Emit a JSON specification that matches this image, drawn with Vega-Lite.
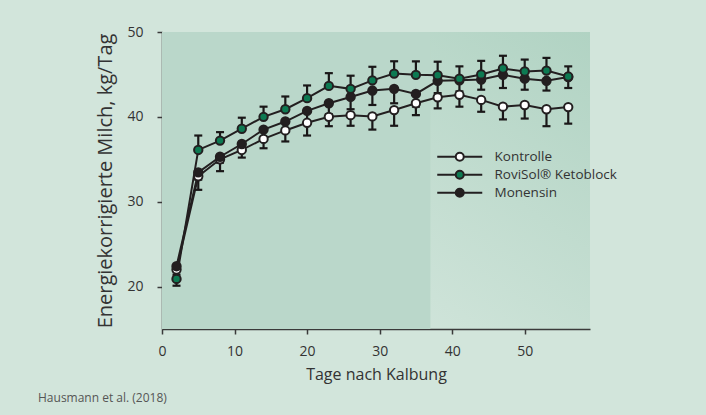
{
  "$schema": "https://vega.github.io/schema/vega-lite/v6.json",
  "autosize": {"type": "none"},
  "padding": {"left": 162, "top": 32, "right": 116, "bottom": 86},
  "width": 428,
  "height": 297,
  "background": "#d2e5db",
  "title": {
    "text": "Hausmann et al. (2018)",
    "orient": "bottom",
    "anchor": "start",
    "frame": "group",
    "dx": -124,
    "offset": 11,
    "fontSize": 12,
    "fontWeight": "normal",
    "font": "Open Sans",
    "color": "#555555"
  },
  "config": {
    "font": "Open Sans",
    "view": {
      "stroke": null,
      "fill": {
        "gradient": "linear",
        "x1": 0, "y1": 1, "x2": 1, "y2": 0,
        "stops": [
          {"offset": 0, "color": "#dcebe3"},
          {"offset": 1, "color": "#b1d3c3"}
        ]
      }
    },
    "axis": {
      "grid": false,
      "domainColor": "#3a3a3a",
      "domainWidth": 1.5,
      "tickColor": "#3a3a3a",
      "tickWidth": 1.5,
      "tickSize": 5,
      "labelColor": "#333333",
      "labelFontSize": 14,
      "labelFont": "Open Sans",
      "titleColor": "#333333",
      "titleFontSize": 16,
      "titleFont": "Open Sans",
      "titleFontWeight": "normal"
    }
  },
  "datasets": {
    "milk": [
      {"day": 2, "group": "Kontrolle", "value": 22.0, "lo": 21.4, "hi": 22.0},
      {"day": 5, "group": "Kontrolle", "value": 33.0, "lo": 31.4, "hi": 33.0},
      {"day": 8, "group": "Kontrolle", "value": 35.0, "lo": 33.6, "hi": 35.0},
      {"day": 11, "group": "Kontrolle", "value": 36.1, "lo": 35.2, "hi": 36.1},
      {"day": 14, "group": "Kontrolle", "value": 37.4, "lo": 36.3, "hi": 37.4},
      {"day": 17, "group": "Kontrolle", "value": 38.4, "lo": 37.1, "hi": 38.4},
      {"day": 20, "group": "Kontrolle", "value": 39.3, "lo": 37.8, "hi": 39.3},
      {"day": 23, "group": "Kontrolle", "value": 40.0, "lo": 38.9, "hi": 40.0},
      {"day": 26, "group": "Kontrolle", "value": 40.2, "lo": 38.95, "hi": 40.2},
      {"day": 29, "group": "Kontrolle", "value": 40.05, "lo": 38.5, "hi": 40.05},
      {"day": 32, "group": "Kontrolle", "value": 40.8, "lo": 38.95, "hi": 40.8},
      {"day": 35, "group": "Kontrolle", "value": 41.6, "lo": 40.2, "hi": 41.6},
      {"day": 38, "group": "Kontrolle", "value": 42.3, "lo": 41.0, "hi": 42.3},
      {"day": 41, "group": "Kontrolle", "value": 42.6, "lo": 41.2, "hi": 42.6},
      {"day": 44, "group": "Kontrolle", "value": 42.0, "lo": 40.6, "hi": 42.0},
      {"day": 47, "group": "Kontrolle", "value": 41.2, "lo": 39.7, "hi": 41.2},
      {"day": 50, "group": "Kontrolle", "value": 41.4, "lo": 39.8, "hi": 41.4},
      {"day": 53, "group": "Kontrolle", "value": 40.9, "lo": 38.9, "hi": 40.9},
      {"day": 56, "group": "Kontrolle", "value": 41.15, "lo": 39.2, "hi": 41.15},
      {"day": 2, "group": "Monensin", "value": 22.4, "lo": 21.8, "hi": 22.4},
      {"day": 5, "group": "Monensin", "value": 33.45, "lo": 32.6, "hi": 33.45},
      {"day": 8, "group": "Monensin", "value": 35.3, "lo": 34.6, "hi": 35.3},
      {"day": 11, "group": "Monensin", "value": 36.8, "lo": 35.9, "hi": 36.8},
      {"day": 14, "group": "Monensin", "value": 38.5, "lo": 37.4, "hi": 38.5},
      {"day": 17, "group": "Monensin", "value": 39.45, "lo": 38.3, "hi": 39.45},
      {"day": 20, "group": "Monensin", "value": 40.7, "lo": 39.5, "hi": 40.7},
      {"day": 23, "group": "Monensin", "value": 41.6, "lo": 40.3, "hi": 41.6},
      {"day": 26, "group": "Monensin", "value": 42.35, "lo": 40.9, "hi": 42.35},
      {"day": 29, "group": "Monensin", "value": 43.1, "lo": 41.4, "hi": 43.1},
      {"day": 32, "group": "Monensin", "value": 43.3, "lo": 41.6, "hi": 43.3},
      {"day": 35, "group": "Monensin", "value": 42.7, "lo": 41.2, "hi": 42.7},
      {"day": 38, "group": "Monensin", "value": 44.25, "lo": 42.8, "hi": 44.25},
      {"day": 41, "group": "Monensin", "value": 44.3, "lo": 43.0, "hi": 44.3},
      {"day": 44, "group": "Monensin", "value": 44.4, "lo": 43.2, "hi": 44.4},
      {"day": 47, "group": "Monensin", "value": 44.95, "lo": 43.4, "hi": 44.95},
      {"day": 50, "group": "Monensin", "value": 44.5, "lo": 43.2, "hi": 44.5},
      {"day": 53, "group": "Monensin", "value": 44.25, "lo": 43.1, "hi": 44.25},
      {"day": 56, "group": "Monensin", "value": 44.7, "lo": 43.4, "hi": 44.7},
      {"day": 2, "group": "RoviSol® Ketoblock", "value": 20.9, "lo": 20.1, "hi": 20.9},
      {"day": 5, "group": "RoviSol® Ketoblock", "value": 36.1, "lo": 36.1, "hi": 37.8},
      {"day": 8, "group": "RoviSol® Ketoblock", "value": 37.2, "lo": 37.2, "hi": 38.2},
      {"day": 11, "group": "RoviSol® Ketoblock", "value": 38.6, "lo": 38.6, "hi": 39.9},
      {"day": 14, "group": "RoviSol® Ketoblock", "value": 40.0, "lo": 40.0, "hi": 41.2},
      {"day": 17, "group": "RoviSol® Ketoblock", "value": 40.9, "lo": 40.9, "hi": 42.4},
      {"day": 20, "group": "RoviSol® Ketoblock", "value": 42.2, "lo": 42.2, "hi": 43.7},
      {"day": 23, "group": "RoviSol® Ketoblock", "value": 43.65, "lo": 43.65, "hi": 45.15},
      {"day": 26, "group": "RoviSol® Ketoblock", "value": 43.3, "lo": 43.3, "hi": 44.85},
      {"day": 29, "group": "RoviSol® Ketoblock", "value": 44.3, "lo": 44.3, "hi": 45.9},
      {"day": 32, "group": "RoviSol® Ketoblock", "value": 45.1, "lo": 45.1, "hi": 46.55},
      {"day": 35, "group": "RoviSol® Ketoblock", "value": 44.95, "lo": 44.95, "hi": 46.55},
      {"day": 38, "group": "RoviSol® Ketoblock", "value": 44.9, "lo": 44.9, "hi": 46.5},
      {"day": 41, "group": "RoviSol® Ketoblock", "value": 44.5, "lo": 44.5, "hi": 45.95},
      {"day": 44, "group": "RoviSol® Ketoblock", "value": 45.0, "lo": 45.0, "hi": 46.6},
      {"day": 47, "group": "RoviSol® Ketoblock", "value": 45.7, "lo": 45.7, "hi": 47.2},
      {"day": 50, "group": "RoviSol® Ketoblock", "value": 45.35, "lo": 45.35, "hi": 46.75},
      {"day": 53, "group": "RoviSol® Ketoblock", "value": 45.45, "lo": 45.45, "hi": 46.95},
      {"day": 56, "group": "RoviSol® Ketoblock", "value": 44.75, "lo": 44.75, "hi": 45.95}
    ]
  },
  "layer": [
    {
      "data": {"values": [{"from": 0, "to": 37, "low": 15, "high": 50}]},
      "mark": {"type": "rect", "color": "#bad7ca", "opacity": 1},
      "encoding": {
        "x": {"field": "from", "type": "quantitative", "title": "Tage nach Kalbung", "scale": {"domain": [0, 59], "nice": false},
              "axis": {"values": [0, 10, 20, 30, 40, 50], "labelPadding": 10, "titlePadding": 8, "labelFlush": false}},
        "x2": {"field": "to"},
        "y": {"field": "low", "type": "quantitative", "title": "Energiekorrigierte Milch, kg/Tag", "scale": {"domain": [15, 50], "nice": false, "zero": false},
              "axis": {"values": [20, 30, 40, 50], "labelPadding": 14, "titlePadding": 11, "titleFontSize": 20, "labelFlush": false}},
        "y2": {"field": "high"}
      }
    },
    {
      "data": {"name": "milk"},
      "mark": {"type": "line", "color": "#231f20", "strokeWidth": 2},
      "encoding": {
        "x": {"field": "day", "type": "quantitative", "title": "Tage nach Kalbung"},
        "y": {"field": "value", "type": "quantitative", "title": "Energiekorrigierte Milch, kg/Tag"},
        "detail": {"field": "group"}
      }
    },
    {
      "data": {"name": "milk"},
      "mark": {"type": "errorbar", "color": "#1a1718", "opacity": 1, "thickness": 2.2,
               "rule": {"color": "#1a1718", "strokeWidth": 2.2, "opacity": 1},
               "ticks": {"size": 8, "thickness": 2.2, "color": "#1a1718", "opacity": 1}},
      "encoding": {
        "x": {"field": "day", "type": "quantitative", "title": "Tage nach Kalbung"},
        "y": {"field": "lo", "type": "quantitative", "title": "Energiekorrigierte Milch, kg/Tag"},
        "y2": {"field": "hi"}
      }
    },
    {
      "data": {"name": "milk"},
      "mark": {"type": "point", "filled": true, "size": 70, "stroke": "#231f20", "strokeWidth": 2, "opacity": 1, "shape": "circle"},
      "encoding": {
        "x": {"field": "day", "type": "quantitative", "title": "Tage nach Kalbung"},
        "y": {"field": "value", "type": "quantitative", "title": "Energiekorrigierte Milch, kg/Tag"},
        "fill": {
          "field": "group", "type": "nominal",
          "scale": {"domain": ["Kontrolle", "RoviSol® Ketoblock", "Monensin"], "range": ["#ffffff", "#0d7a52", "#231f20"]},
          "legend": {
            "title": null,
            "orient": "none",
            "legendX": 291,
            "legendY": 118,
            "padding": 0,
            "rowPadding": 1,
            "symbolType": "M-4.5,0H-0.8A0.8,0.8,0,1,1,0.8,0A0.8,0.8,0,1,1,-0.8,0ZM0.8,0H4.5",
            "symbolSize": 100,
            "symbolStrokeColor": "#231f20",
            "symbolStrokeWidth": 2,
            "symbolOpacity": 1,
            "labelOffset": 28,
            "labelFontSize": 13.5,
            "labelFont": "Open Sans",
            "labelColor": "#333333"
          }
        }
      }
    }
  ]
}
